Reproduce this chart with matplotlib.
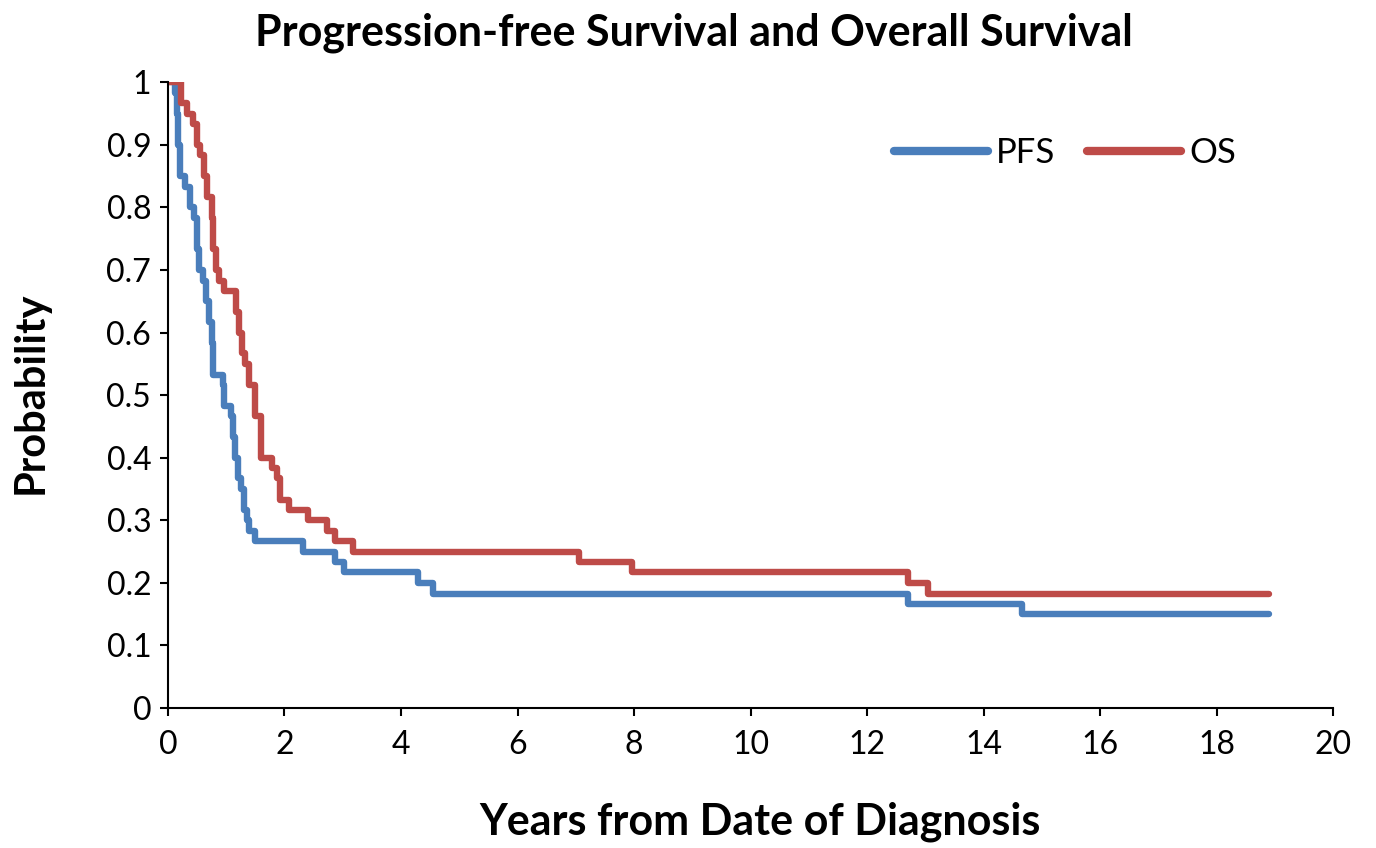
import matplotlib
matplotlib.use("Agg")
import matplotlib.pyplot as plt
from matplotlib.ticker import FuncFormatter

plt.rcParams['font.family'] = ['Lato', 'DejaVu Sans']

# Kaplan-Meier step data (years, probability)
pfs_t = [0, 0.12, 0.15, 0.18, 0.2, 0.3, 0.38, 0.45, 0.5, 0.53, 0.6, 0.65, 0.7,
         0.75, 0.78, 0.95, 0.97, 1.08, 1.12, 1.15, 1.2, 1.25, 1.3, 1.35, 1.4,
         1.5, 2.32, 2.87, 3.02, 4.3, 4.55, 12.7, 14.65, 18.9]
pfs_p = [1.0, 0.983, 0.95, 0.9, 0.85, 0.833, 0.8, 0.783, 0.733, 0.7, 0.683,
         0.65, 0.617, 0.583, 0.533, 0.517, 0.483, 0.467, 0.433, 0.4, 0.367,
         0.35, 0.317, 0.3, 0.283, 0.267, 0.25, 0.233, 0.217, 0.2, 0.183,
         0.167, 0.15, 0.15]

os_t = [0, 0.23, 0.32, 0.43, 0.5, 0.55, 0.62, 0.67, 0.75, 0.78, 0.82, 0.87,
        0.97, 1.17, 1.22, 1.27, 1.33, 1.4, 1.5, 1.6, 1.78, 1.88, 1.92, 2.08,
        2.4, 2.73, 2.87, 3.18, 7.05, 7.97, 12.7, 13.05, 18.9]
os_p = [1.0, 0.967, 0.95, 0.933, 0.9, 0.883, 0.85, 0.817, 0.783, 0.733, 0.7,
        0.683, 0.667, 0.633, 0.6, 0.567, 0.55, 0.517, 0.467, 0.4, 0.383,
        0.367, 0.333, 0.317, 0.3, 0.283, 0.267, 0.25, 0.233, 0.217, 0.2,
        0.183, 0.183]

BLUE = "#4a7ebb"
RED = "#be4b48"

fig = plt.figure(figsize=(13.76, 8.48), dpi=100)
ax = fig.add_axes([0.122, 0.165, 0.847, 0.738])

ax.step(pfs_t, pfs_p, where="post", color=BLUE, lw=4.6, label="PFS",
        solid_capstyle="round", solid_joinstyle="round")
ax.step(os_t, os_p, where="post", color=RED, lw=4.6, label="OS",
        solid_capstyle="round", solid_joinstyle="round")

ax.set_xlim(0, 20)
ax.set_ylim(0, 1)
ax.set_xticks(range(0, 21, 2))
ax.set_yticks([i / 10 for i in range(11)])
ax.yaxis.set_major_formatter(FuncFormatter(lambda v, _: f"{v:g}"))
ax.tick_params(labelsize=23, length=6, width=1.5, direction="out", pad=6)
ax.tick_params(axis="x", pad=10)
for s in ("top", "right"):
    ax.spines[s].set_visible(False)
for s in ("left", "bottom"):
    ax.spines[s].set_linewidth(1.5)

fig.text(0.504, 1 - 33 / 848, "Progression-free Survival and Overall Survival",
         fontsize=31, fontweight="bold", ha="center", va="center")
fig.text(0.552, 1 - 822 / 848, "Years from Date of Diagnosis", fontsize=31,
         fontweight="bold", ha="center", va="center")
fig.text(31 / 1376, 1 - 393 / 848, "Probability", fontsize=30,
         fontweight="bold", ha="center", va="center", rotation=90)

leg = ax.legend(loc="center left", bbox_to_anchor=(0.608, 0.887), ncol=2,
                frameon=False, fontsize=25, handlelength=2.7, borderpad=0,
                columnspacing=0.9, handletextpad=0.25)
for h in leg.get_lines():
    h.set_linewidth(6)

fig.savefig("out.png", dpi=100)
